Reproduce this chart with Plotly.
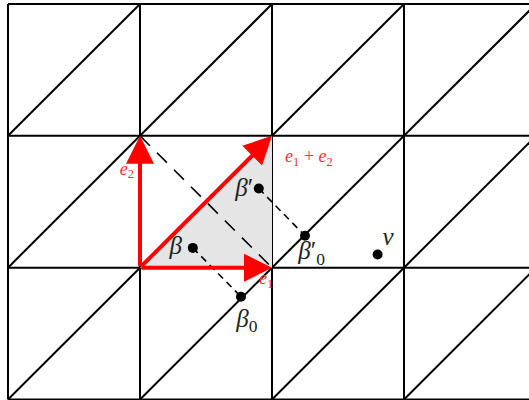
import plotly.graph_objects as go

# Lattice
grid_x = [-1, 0, 1, 2, 3]
grid_y = [-1, 0, 1, 2]

# Shaded fundamental triangle
tri_u = [0, 1, 1, 0]
tri_v = [0, 0, 1, 0]

# Basis vectors (tail at origin -> tip)
vec_names = ["e1", "e2", "e1+e2"]
vec_tip_u = [1, 0, 1]
vec_tip_v = [0, 1, 1]

# Points
pt_names = ["β", "β0", "β′", "β′0", "v"]
pt_u = [0.40, 0.765, 0.90, 1.25, 1.80]
pt_v = [0.15, -0.22, 0.60, 0.242, 0.10]

# Labels
lab_text = ["<i>β</i>", "<i>β</i><sub>0</sub>", "<i>β</i>′", "<i>β</i>′<sub>0</sub>", "<i>v</i>"]
lab_u = [0.27, 0.81, 0.79, 1.30, 1.88]
lab_v = [0.15, -0.40, 0.59, 0.11, 0.22]

vlab_text = ["<i>e</i><sub>1</sub>", "<i>e</i><sub>2</sub>", "<i>e</i><sub>1</sub> + <i>e</i><sub>2</sub>"]
vlab_u = [0.955, -0.10, 1.28]
vlab_v = [-0.09, 0.74, 0.835]

fig = go.Figure()

BLK = "black"
LW = 2

# grid lines
for gx in grid_x:
    fig.add_trace(go.Scatter(x=[gx, gx], y=[grid_y[0], grid_y[-1]], mode="lines",
                             line=dict(color=BLK, width=LW), hoverinfo="skip"))
for gy in grid_y:
    fig.add_trace(go.Scatter(x=[grid_x[0], grid_x[-1]], y=[gy, gy], mode="lines",
                             line=dict(color=BLK, width=LW), hoverinfo="skip"))
# diagonals
for gx in grid_x[:-1]:
    for gy in grid_y[:-1]:
        fig.add_trace(go.Scatter(x=[gx, gx + 1], y=[gy, gy + 1], mode="lines",
                                 line=dict(color=BLK, width=LW), hoverinfo="skip"))

# shaded triangle
fig.add_trace(go.Scatter(x=tri_u, y=tri_v, mode="lines", fill="toself",
                         fillcolor="#e5e5e5", line=dict(width=0), hoverinfo="skip"))

# long dashed anti-diagonal between e2 and e1 tips
fig.add_trace(go.Scatter(x=[vec_tip_u[1], vec_tip_u[0]], y=[vec_tip_v[1], vec_tip_v[0]],
                         mode="lines", line=dict(color=BLK, width=1.6, dash="14px,10px"),
                         hoverinfo="skip"))
# short dashed projections
fig.add_trace(go.Scatter(x=[pt_u[0], pt_u[1]], y=[pt_v[0], pt_v[1]], mode="lines",
                         line=dict(color=BLK, width=1.6, dash="7px,5px"), hoverinfo="skip"))
fig.add_trace(go.Scatter(x=[pt_u[2], pt_u[3]], y=[pt_v[2], pt_v[3]], mode="lines",
                         line=dict(color=BLK, width=1.6, dash="7px,5px"), hoverinfo="skip"))

# points
fig.add_trace(go.Scatter(x=pt_u, y=pt_v, mode="markers",
                         marker=dict(color=BLK, size=10), hoverinfo="skip"))

# labels
fig.add_trace(go.Scatter(x=lab_u, y=lab_v, mode="text", text=lab_text,
                         textfont=dict(family="Liberation Serif", size=25, color="#222"),
                         hoverinfo="skip"))
fig.add_trace(go.Scatter(x=vlab_u, y=vlab_v, mode="text", text=vlab_text,
                         textfont=dict(family="Liberation Serif", size=18, color="#ff3030"),
                         hoverinfo="skip"))

# arrows
for tu, tv in zip(vec_tip_u, vec_tip_v):
    fig.add_annotation(x=tu, y=tv, ax=0, ay=0, xref="x", yref="y", axref="x", ayref="y",
                       showarrow=True, arrowhead=2, arrowsize=1.4, arrowwidth=4,
                       arrowcolor="red", text="", standoff=0)

fig.update_layout(
    width=529, height=400, margin=dict(l=0, r=0, t=0, b=0),
    paper_bgcolor="white", plot_bgcolor="white", showlegend=False,
    xaxis=dict(range=[-140 / 132, 389 / 132], visible=False, fixedrange=True),
    yaxis=dict(range=[-132.5 / 132, 268 / 132], visible=False, fixedrange=True),
)
fig.write_html("out.html", config={"displayModeBar": False},
               post_script="document.body.style.margin='0';")
